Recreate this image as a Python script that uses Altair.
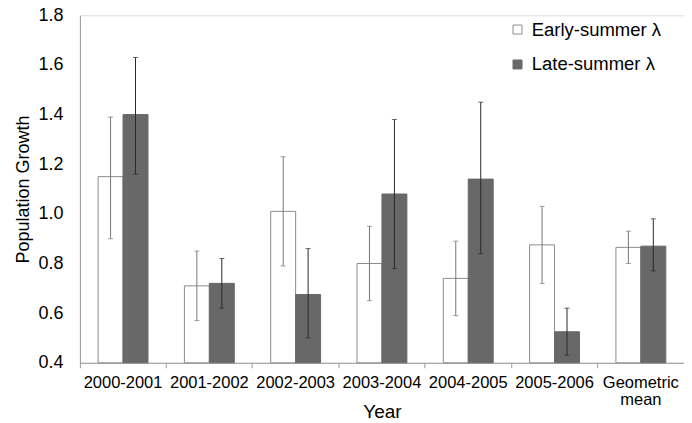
import altair as alt
import pandas as pd

years = ["2000-2001", "2001-2002", "2002-2003", "2003-2004", "2004-2005", "2005-2006", "Geometric mean"]
early = [1.15, 0.71, 1.01, 0.80, 0.74, 0.875, 0.865]
early_lo = [0.90, 0.57, 0.79, 0.65, 0.59, 0.72, 0.80]
early_hi = [1.39, 0.85, 1.23, 0.95, 0.89, 1.03, 0.93]
late = [1.40, 0.72, 0.675, 1.08, 1.14, 0.525, 0.87]
late_lo = [1.16, 0.62, 0.50, 0.78, 0.84, 0.43, 0.77]
late_hi = [1.63, 0.82, 0.86, 1.38, 1.45, 0.62, 0.98]
series = ["Early-summer λ", "Late-summer λ"]

rows = []
for i, y in enumerate(years):
    rows.append({"Year": y, "Series": series[0], "val": early[i], "lo": early_lo[i], "hi": early_hi[i]})
    rows.append({"Year": y, "Series": series[1], "val": late[i], "lo": late_lo[i], "hi": late_hi[i]})
df = pd.DataFrame(rows)

x = alt.X("Year:N", sort=years, title="Year",
          scale=alt.Scale(paddingInner=0, paddingOuter=0),
          axis=alt.Axis(labelAngle=0, labelFontSize=16.5, labelPadding=7, labelBaseline="top",
                        labelExpr="datum.label == 'Geometric mean' ? ['Geometric', 'mean'] : datum.label",
                        labelLineHeight=17, bandPosition=0, tickSize=5, tickColor="#999",
                        domainColor="#999", titleFontSize=19, titleFontWeight="normal",
                        titleY=55, titleBaseline="alphabetic"))
xo = alt.XOffset("Series:N", sort=series, scale=alt.Scale(paddingInner=0, paddingOuter=0.73))
yscale = alt.Scale(domain=[0.4, 1.8], zero=False, nice=False)

leg = alt.Legend(title=None, orient="none", legendX=429, legendY=5,
                 symbolType="square", symbolSize=81, labelFontSize=18.5,
                 labelOffset=5, rowPadding=16, symbolStrokeWidth=1)

bars = alt.Chart(df).mark_bar(strokeWidth=1).encode(
    x=x, xOffset=xo,
    y=alt.Y("val:Q", scale=yscale, title="Population Growth",
            axis=alt.Axis(values=[0.4, 0.6, 0.8, 1.0, 1.2, 1.4, 1.6, 1.8], format=".1f",
                          ticks=False, labelFontSize=18, labelPadding=17, domainColor="#999",
                          grid=False, titleFontSize=18, titleFontWeight="normal", titlePadding=5)),
    y2=alt.datum(0.4),
    fill=alt.Fill("Series:N", sort=series, scale=alt.Scale(domain=series, range=["#ffffff", "#686868"]),
                  legend=leg),
    stroke=alt.Stroke("Series:N", sort=series, scale=alt.Scale(domain=series, range=["#8c8c8c", "#686868"]),
                      legend=leg),
)

ecolor = alt.Color("Series:N", sort=series, scale=alt.Scale(domain=series, range=["#777777", "#2a2a2a"]), legend=None)

rules = alt.Chart(df).mark_rule(strokeWidth=1).encode(
    x=x, xOffset=xo, y=alt.Y("lo:Q", scale=yscale), y2="hi:Q", color=ecolor)
cap_hi = alt.Chart(df).mark_tick(size=5, thickness=1, orient="horizontal").encode(
    x=x, xOffset=xo, y=alt.Y("hi:Q", scale=yscale), color=ecolor)
cap_lo = alt.Chart(df).mark_tick(size=5, thickness=1, orient="horizontal").encode(
    x=x, xOffset=xo, y=alt.Y("lo:Q", scale=yscale), color=ecolor)

chart = alt.layer(bars, rules, cap_hi, cap_lo).resolve_scale(color="independent").properties(
    width=605, height=348,
    autosize=alt.AutoSizeParams(type="none"),
    padding={"left": 72, "top": 7, "right": 0, "bottom": 60},
    background="white",
).configure_view(stroke=None).configure(font="Liberation Sans").configure_axis(
    labelColor="black", titleColor="black"
).configure_legend(labelColor="black")

chart.save("out.html", embed_options={"renderer": "svg", "actions": False})
